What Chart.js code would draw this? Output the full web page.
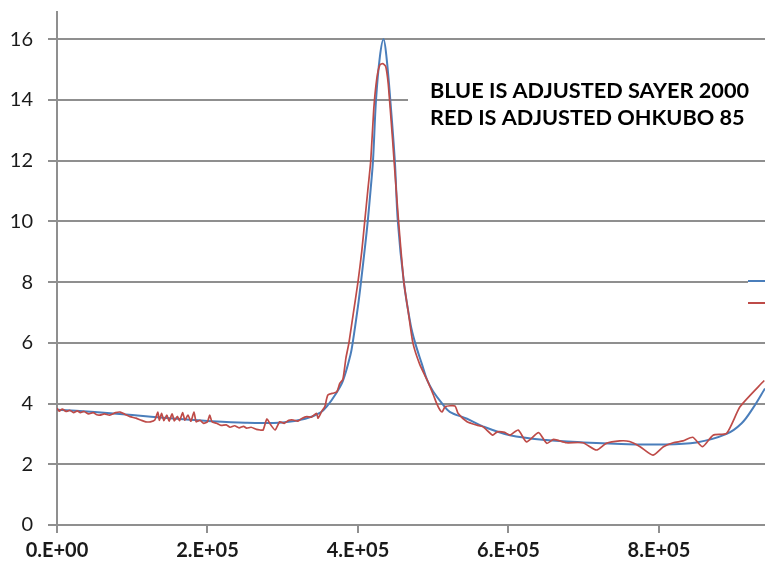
<!DOCTYPE html>
<html>
<head>
<meta charset="utf-8">
<script src="https://cdn.jsdelivr.net/npm/chart.js@4/dist/chart.umd.min.js"></script>
<style>
  html, body { margin: 0; padding: 0; background: #fff; overflow: hidden; }
  #wrap { width: 765px; height: 565px; }
</style>
</head>
<body>
<div id="wrap"><canvas id="myChart" width="765" height="565"></canvas></div>
<script>
// x positions are in units of 1E+05
var blueX = [0, 0.5, 1.0, 1.5, 2.0, 2.5, 3.0, 3.3, 3.5, 3.6, 3.7, 3.8, 3.9, 3.93, 4.0, 4.04, 4.1, 4.13,
    4.17, 4.2, 4.24, 4.29, 4.34, 4.38, 4.43, 4.49, 4.53, 4.61, 4.7, 4.76, 4.85, 4.92, 5.0, 5.12,
    5.22, 5.45, 5.66, 6.02, 6.5, 7.0, 7.5, 8.0, 8.5, 8.9, 9.1, 9.25, 9.41];
var blueY = [3.8, 3.72, 3.62, 3.52, 3.43, 3.37, 3.38, 3.5, 3.7, 3.95, 4.3, 4.75, 5.6, 6.0, 7.2, 8.0, 9.3, 10.0,
    11.1, 12.0, 14.0, 15.4, 16.0, 15.4, 14.0, 12.0, 10.0, 8.0, 6.6, 6.0, 5.3, 4.77, 4.4, 4.0,
    3.73, 3.5, 3.25, 2.96, 2.8, 2.72, 2.67, 2.65, 2.72, 3.0, 3.35, 3.85, 4.5];

var redX = [0, 0.03, 0.07, 0.12, 0.17, 0.22, 0.27, 0.31, 0.36, 0.42, 0.48, 0.53, 0.57, 0.63, 0.70, 0.78,
    0.84, 0.90, 0.97, 1.05, 1.12, 1.18, 1.24, 1.30, 1.34, 1.36, 1.39, 1.42, 1.46, 1.49, 1.53, 1.56,
    1.60, 1.63, 1.67, 1.70, 1.74, 1.78, 1.82, 1.85, 1.90, 1.95, 2.00, 2.03, 2.06, 2.12, 2.18, 2.25,
    2.30, 2.36, 2.42, 2.48, 2.52, 2.58, 2.65, 2.70, 2.74, 2.79, 2.84, 2.90, 2.96, 3.02, 3.08, 3.14,
    3.20, 3.26, 3.32, 3.38, 3.45, 3.47, 3.52, 3.56, 3.60, 3.68, 3.72, 3.76, 3.80, 3.84, 3.88, 3.94,
    4.00, 4.05, 4.09, 4.13, 4.17, 4.21, 4.25, 4.29, 4.33, 4.37, 4.40, 4.42, 4.46, 4.48, 4.54,
    4.61, 4.67, 4.73, 4.82, 4.92, 5.00, 5.05, 5.09, 5.12, 5.16, 5.29, 5.33, 5.45, 5.58, 5.66, 5.79,
    5.85, 5.95, 6.02, 6.13, 6.24, 6.40, 6.51, 6.60, 6.77, 6.99, 7.17, 7.30, 7.48, 7.61, 7.75, 7.92,
    8.06, 8.19, 8.32, 8.45, 8.58, 8.72, 8.90, 9.08, 9.40];
var redY = [3.85, 3.75, 3.82, 3.74, 3.78, 3.70, 3.76, 3.70, 3.74, 3.66, 3.70, 3.63, 3.62, 3.66, 3.62, 3.70,
    3.72, 3.65, 3.57, 3.52, 3.45, 3.40, 3.40, 3.46, 3.72, 3.45, 3.68, 3.44, 3.62, 3.42, 3.66, 3.43,
    3.58, 3.44, 3.70, 3.45, 3.62, 3.42, 3.72, 3.40, 3.45, 3.35, 3.40, 3.62, 3.40, 3.35, 3.28, 3.30,
    3.22, 3.27, 3.20, 3.25, 3.19, 3.22, 3.15, 3.13, 3.13, 3.49, 3.30, 3.13, 3.40, 3.35, 3.45, 3.46,
    3.42, 3.52, 3.57, 3.55, 3.68, 3.52, 3.75, 3.90, 4.28, 4.35, 4.39, 4.67, 4.80, 5.5, 6.0, 7.0,
    8.0, 9.0, 10.0, 11.0, 12.0, 13.7, 14.7, 15.15, 15.2, 15.1, 14.6, 14.0, 12.7, 12.0, 10.0,
    8.0, 7.0, 6.0, 5.3, 4.77, 4.3, 3.98, 3.79, 3.73, 3.9, 3.92, 3.68, 3.4, 3.29, 3.24, 2.96,
    3.07, 3.05, 2.96, 3.13, 2.74, 3.04, 2.69, 2.82, 2.71, 2.71, 2.47, 2.69, 2.77, 2.75, 2.58, 2.30,
    2.58, 2.71, 2.77, 2.89, 2.58, 2.96, 3.02, 3.90, 4.76];

var xTicks = [0, 2e5, 4e5, 6e5, 8e5];
var yTicks = [0, 2, 4, 6, 8, 10, 12, 14, 16];
var noteLines = ["BLUE IS ADJUSTED SAYER 2000", "RED IS ADJUSTED OHKUBO 85"];

var gridColor = "#8f8f8f";
var blueColor = "#4a7ebb";
var redColor = "#be4b48";

function toPoints(xs, ys) {
    var pts = [];
    for (var i = 0; i < xs.length; i++) pts.push({ x: xs[i] * 1e5, y: ys[i] });
    return pts;
}

// Excel style scientific labels, e.g. 2.E+05
function sciLabel(v) {
    if (v === 0) return "0.E+00";
    var e = Math.floor(Math.log10(Math.abs(v)));
    var m = Math.round(v / Math.pow(10, e));
    return m + ".E+" + (e < 10 ? "0" + e : e);
}

// white boxes with the note text and the (cut off) legend swatches
var notePlugin = {
    id: "note",
    beforeDatasetsDraw: function(chart) {
        var ctx = chart.ctx;
        ctx.save();
        ctx.fillStyle = "#fff";
        ctx.fillRect(408, 66, 357, 82);
        ctx.fillRect(748, 266, 17, 52);

        ctx.fillStyle = "#000";
        ctx.font = "bold 21.7px Lato";
        ctx.textBaseline = "alphabetic";
        ctx.fillText(noteLines[0], 430, 98);
        ctx.fillText(noteLines[1], 430, 125);

        ctx.lineWidth = 2;
        ctx.strokeStyle = blueColor;
        ctx.beginPath(); ctx.moveTo(748, 281); ctx.lineTo(765, 281); ctx.stroke();
        ctx.strokeStyle = redColor;
        ctx.beginPath(); ctx.moveTo(748, 303); ctx.lineTo(765, 303); ctx.stroke();
        ctx.restore();
    }
};

var ctx = document.getElementById("myChart");
var myChart = new Chart(ctx, {
    type: "line",
    data: {
        datasets: [
            {
                label: "Sayer 2000",
                data: toPoints(blueX, blueY),
                borderColor: blueColor,
                borderWidth: 2,
                pointRadius: 0,
                tension: 0.35,
                order: 2
            },
            {
                label: "Ohkubo 85",
                data: toPoints(redX, redY),
                borderColor: redColor,
                borderWidth: 1.7,
                pointRadius: 0,
                tension: 0.2,
                order: 1
            }
        ]
    },
    options: {
        responsive: false,
        animation: false,
        layout: { padding: { top: 12, right: 0, left: 0, bottom: 0 } },
        plugins: {
            legend: { display: false },
            tooltip: { enabled: false }
        },
        scales: {
            x: {
                type: "linear",
                min: 0,
                max: 9.41e5,
                afterBuildTicks: function(scale) {
                    scale.ticks = xTicks.map(function(v) { return { value: v }; });
                },
                afterFit: function(scale) { scale.height = 40; },
                grid: {
                    display: true,
                    drawOnChartArea: false,
                    drawTicks: true,
                    tickLength: 8,
                    color: gridColor,
                    lineWidth: 2
                },
                border: { display: true, color: gridColor, width: 2 },
                ticks: {
                    padding: 6,
                    maxRotation: 0,
                    color: "#1a1a1a",
                    font: { family: "Lato", size: 20, weight: "bold" },
                    callback: function(v) { return sciLabel(v); }
                }
            },
            y: {
                min: 0,
                max: 16.9,
                afterBuildTicks: function(scale) {
                    scale.ticks = yTicks.map(function(v) { return { value: v }; });
                },
                afterFit: function(scale) {
                    scale.width = 57;
                    scale.paddingTop = 0;
                    scale.paddingBottom = 0;
                },
                grid: {
                    color: gridColor,
                    lineWidth: 2,
                    tickLength: 9
                },
                border: { display: true, color: gridColor, width: 2 },
                ticks: {
                    padding: 15,
                    color: "#1a1a1a",
                    font: { family: "Lato", size: 20 }
                }
            }
        }
    },
    plugins: [notePlugin]
});
</script>
</body>
</html>
